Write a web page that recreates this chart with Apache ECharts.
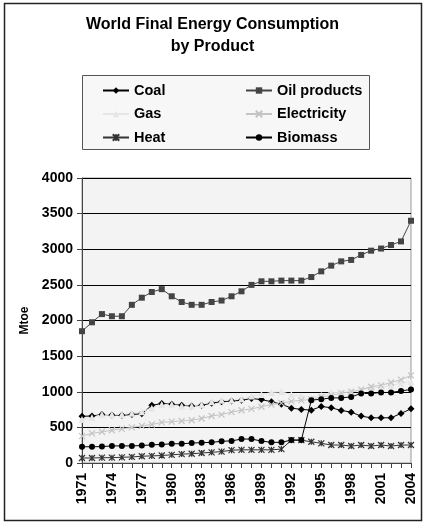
<!DOCTYPE html>
<html>
<head>
<meta charset="utf-8">
<script src="https://cdn.jsdelivr.net/npm/echarts@6/dist/echarts.min.js"></script>
<style>
  html, body { margin: 0; padding: 0; background: #fff; }
  #chart { width: 425px; height: 527px; }
</style>
</head>
<body>
<div id="chart"></div>
<script>
// values (Mtoe)
const years = []
for (let y = 1971; y <= 2004; y++) years.push(String(y))

const coal = [655, 660, 680, 675, 670, 680, 690, 810, 835, 825, 810, 800, 810, 840, 860, 870, 880, 905,
  890, 860, 825, 770, 752, 742, 794, 775, 738, 714, 658, 634, 634, 634, 696, 760]
const oil = [1850, 1975, 2090, 2060, 2060, 2220, 2320, 2400, 2440, 2340, 2260, 2220, 2220, 2260, 2280, 2340, 2410, 2500,
  2550, 2550, 2560, 2560, 2560, 2610, 2690, 2770, 2830, 2850, 2920, 2980, 3010, 3060, 3110, 3400]
const gas = [610, 640, 680, 680, 680, 700, 720, 770, 820, 820, 800, 800, 820, 860, 880, 880, 900, 940,
  960, 990, 1000, 960, 940, 920, 950, 990, 990, 1000, 1020, 1060, 1060, 1090, 1120, 1140]
const electricity = [378, 415, 438, 460, 480, 500, 520, 540, 570, 580, 590, 600, 625, 660, 680, 715, 740, 760,
  790, 820, 840, 865, 880, 892, 928, 950, 980, 1000, 1030, 1070, 1090, 1130, 1170, 1230]
const heat = [70, 70, 75, 75, 80, 85, 95, 100, 105, 115, 125, 130, 140, 150, 160, 180, 185, 185,
  185, 185, 195, 320, 320, 298, 276, 252, 252, 238, 252, 238, 252, 238, 252, 252]
const biomass = [228, 228, 230, 240, 240, 240, 245, 255, 260, 270, 270, 280, 285, 290, 305, 310, 336, 336,
  308, 290, 290, 322, 322, 882, 896, 914, 914, 928, 976, 976, 990, 990, 1012, 1032]

const FONT = 'Liberation Sans, Arial, sans-serif'
const CROSS = 'path://M0,0L10,10M10,0L0,10'
const STAR = 'path://M0,0L10,10M10,0L0,10M5,0L5,10'

function line(name, data, color, symbol, size, extra) {
  return {
    name,
    type: 'line',
    data,
    symbol,
    symbolSize: size,
    showSymbol: true,
    showAllSymbol: true,
    animation: false,
    lineStyle: { color, width: 1 },
    itemStyle: Object.assign({ color, borderColor: color, borderWidth: 0 }, extra || {}),
    emphasis: { disabled: true },
  }
}

const legendText = { fontFamily: FONT, fontSize: 14.5, fontWeight: 'bold', color: '#000', lineHeight: 14 }

const chart = echarts.init(document.getElementById('chart'), null, { renderer: 'canvas' })

chart.setOption({
  animation: false,
  backgroundColor: '#fff',
  textStyle: { fontFamily: FONT },
  title: {
    text: 'World Final Energy Consumption\nby Product',
    left: 'center',
    top: 9,
    textStyle: { fontFamily: FONT, fontSize: 16, fontWeight: 'bold', color: '#000', lineHeight: 22 },
  },
  graphic: [
    {
      type: 'rect',
      shape: { x: 4.5, y: 3.5, width: 417, height: 517 },
      style: { fill: 'none', stroke: '#222', lineWidth: 1.5 },
      z: 0,
    },
    {
      type: 'rect',
      shape: { x: 82.5, y: 75.5, width: 287, height: 74 },
      style: { fill: '#f7f7f7', stroke: '#555', lineWidth: 1 },
      z: 0,
    },
  ],
  legend: [
    {
      data: ['Coal', 'Gas', 'Heat'],
      orient: 'vertical',
      left: 97,
      top: 78,
      itemWidth: 26,
      itemHeight: 8,
      itemGap: 8.5,
      textStyle: legendText,
      selectedMode: false,
    },
    {
      data: ['Oil products', 'Electricity', 'Biomass'],
      orient: 'vertical',
      left: 240,
      top: 78,
      itemWidth: 26,
      itemHeight: 8,
      itemGap: 8.5,
      textStyle: legendText,
      selectedMode: false,
    },
  ],
  grid: {
    left: 82,
    right: 14,
    top: 178,
    bottom: 64,
    show: true,
    backgroundColor: '#f3f3f3',
    borderColor: '#999',
    borderWidth: 1,
  },
  xAxis: {
    type: 'category',
    data: years,
    boundaryGap: false,
    axisLine: { lineStyle: { color: '#444', width: 1 } },
    axisTick: { show: true, interval: 0, length: 5, lineStyle: { color: '#444' } },
    axisLabel: {
      interval: 2,
      rotate: 90,
      margin: 10,
      fontFamily: FONT,
      fontSize: 14,
      fontWeight: 'bold',
      color: '#000',
    },
    splitLine: { show: false },
  },
  yAxis: {
    type: 'value',
    min: 0,
    max: 4000,
    interval: 500,
    name: 'Mtoe',
    nameLocation: 'middle',
    nameGap: 50,
    nameTextStyle: { fontFamily: FONT, fontSize: 12, fontWeight: 'bold', color: '#000' },
    axisLine: { show: true, lineStyle: { color: '#444', width: 1 } },
    axisTick: { show: true, length: 5, lineStyle: { color: '#444' } },
    axisLabel: {
      fontFamily: FONT, fontSize: 14, fontWeight: 'bold', color: '#000', margin: 9,
      formatter: (v) => String(v),
    },
    splitLine: { show: true, lineStyle: { color: '#000', width: 1 } },
  },
  series: [
    line('Coal', coal, '#000', 'diamond', 7),
    line('Oil products', oil, '#444', 'rect', 6),
    line('Gas', gas, '#e6e6e6', 'triangle', 7),
    line('Electricity', electricity, '#c4c4c4', CROSS, 6, { borderWidth: 1.2, color: 'none' }),
    line('Heat', heat, '#333', STAR, 6, { borderWidth: 1.2, color: 'none' }),
    line('Biomass', biomass, '#000', 'circle', 6),
  ],
})
</script>
</body>
</html>
